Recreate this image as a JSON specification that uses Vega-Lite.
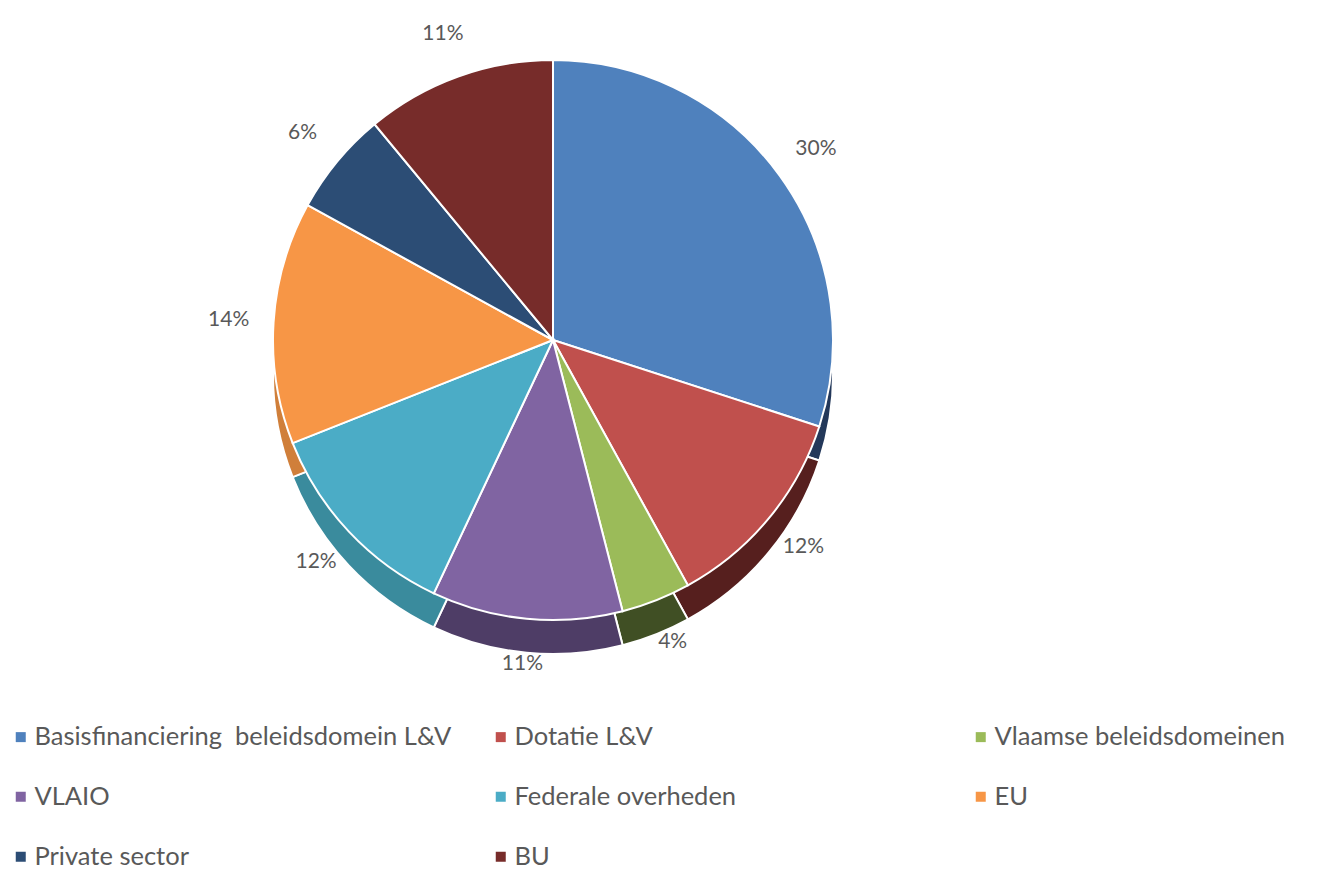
{
  "$schema": "https://vega.github.io/schema/vega-lite/v6.json",
  "width": 1106,
  "height": 680,
  "padding": 0,
  "background": "white",
  "data": {
    "values": [
      {"cat": "Basisfinanciering \u00a0beleidsdomein L&V", "value": 0.30, "idx": 1},
      {"cat": "Dotatie L&V", "value": 0.12, "idx": 2},
      {"cat": "Vlaamse beleidsdomeinen", "value": 0.04, "idx": 3},
      {"cat": "VLAIO", "value": 0.11, "idx": 4},
      {"cat": "Federale overheden", "value": 0.12, "idx": 5},
      {"cat": "EU", "value": 0.14, "idx": 6},
      {"cat": "Private sector", "value": 0.06, "idx": 7},
      {"cat": "BU", "value": 0.11, "idx": 8}
    ]
  },
  "layer": [
    {
      "mark": {"type": "arc", "outerRadius": 280, "yOffset": 34, "stroke": "white", "strokeWidth": 2},
      "encoding": {
        "theta": {"field": "value", "type": "quantitative", "stack": true},
        "order": {"field": "idx", "type": "quantitative"},
        "color": {
          "field": "cat", "type": "nominal", "legend": null,
          "scale": {
            "domain": ["Basisfinanciering \u00a0beleidsdomein L&V", "Dotatie L&V", "Vlaamse beleidsdomeinen", "VLAIO", "Federale overheden", "EU", "Private sector", "BU"],
            "range": ["#23385A", "#561F1E", "#404F24", "#4E3D66", "#3A8B9D", "#D07F3A", "#1B2F48", "#4A1B1A"]
          }
        }
      }
    },
    {
      "mark": {"type": "arc", "outerRadius": 280, "stroke": "white", "strokeWidth": 2},
      "encoding": {
        "theta": {"field": "value", "type": "quantitative", "stack": true},
        "order": {"field": "idx", "type": "quantitative"},
        "color": {
          "field": "cat", "type": "nominal",
          "scale": {
            "domain": ["Basisfinanciering \u00a0beleidsdomein L&V", "Dotatie L&V", "Vlaamse beleidsdomeinen", "VLAIO", "Federale overheden", "EU", "Private sector", "BU"],
            "range": ["#4F81BD", "#C0504D", "#9BBB59", "#8064A2", "#4BACC6", "#F79646", "#2C4D75", "#772C2A"]
          },
          "legend": {
            "title": null,
            "orient": "none",
            "legendX": 8,
            "legendY": 724,
            "padding": 0,
            "direction": "horizontal",
            "columns": 3,
            "gridAlign": "all",
            "columnPadding": 36,
            "rowPadding": 33,
            "symbolType": "square",
            "symbolSize": 100,
            "symbolStrokeWidth": 0,
            "labelOffset": 1,
            "labelFont": "Lato",
            "labelFontSize": 25.5,
            "labelColor": "#595959",
            "labelLimit": 600
          }
        }
      }
    },
    {
      "mark": {"type": "text", "radius": 325, "font": "Lato", "fontSize": 21, "color": "#595959", "baseline": "middle", "align": "center"},
      "encoding": {
        "theta": {"field": "value", "type": "quantitative", "stack": true},
        "order": {"field": "idx", "type": "quantitative"},
        "text": {"field": "value", "type": "quantitative", "format": ".0%"}
      }
    }
  ],
  "resolve": {"scale": {"color": "independent"}},
  "config": {"view": {"stroke": null}}
}
